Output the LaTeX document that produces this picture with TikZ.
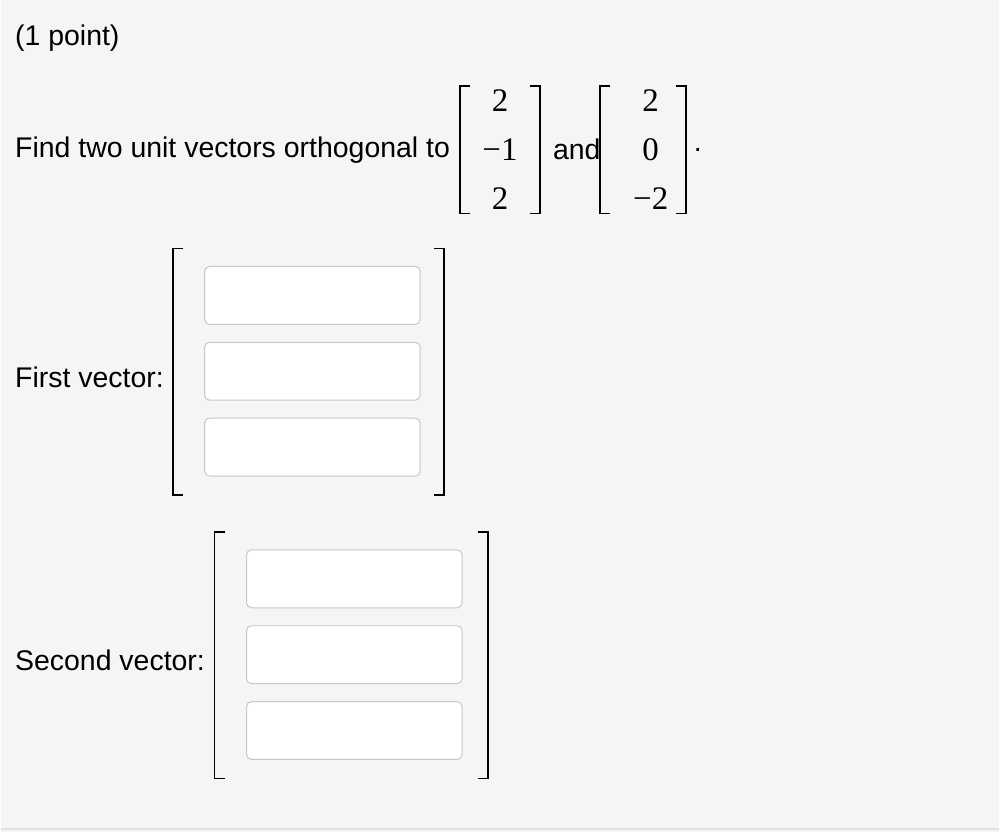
\documentclass[tikz,border=0pt]{standalone}
\usepackage{fontspec}
\setmainfont{Liberation Sans}
\newfontfamily\mathser{Liberation Serif}
\begin{document}
\begin{tikzpicture}[x=1pt,y=-1pt,
  lbl/.style={anchor=west,inner sep=0,font=\fontsize{28.5}{32}\selectfont},
  ent/.style={inner sep=0,font=\mathser\fontsize{33}{36}\selectfont},
  ansbox/.style={draw=black!22,fill=white,rounded corners=5pt,line width=1pt,minimum width=216pt,minimum height=58pt,inner sep=0},
  brk/.style={line width=1.8pt}]
\fill[black!4] (0,0) rectangle (1000,834);
\draw[black!12,line width=2pt] (0,831) -- (1000,831);
\node[lbl] (pt) at (14,38) {(1 point)};
\node[lbl] (q) at (14,150) {Find two unit vectors orthogonal to};
% matrix 1
\draw[brk] (470,86) -- (460,86) -- (460,214) -- (470,214);
\draw[brk] (530,86) -- (540,86) -- (540,214) -- (530,214);
\node[ent] (a1) at (500,101) {2};
\node[ent] (a2) at (500,150) {\char"2212 1};
\node[ent] (a3) at (500,199) {2};
\node[lbl] (and) at (553,150) {and};
% matrix 2
\draw[brk] (610,86) -- (600,86) -- (600,214) -- (610,214);
\draw[brk] (676,86) -- (686,86) -- (686,214) -- (676,214);
\node[ent] (b1) at (651,101) {2};
\node[ent] (b2) at (651,150) {0};
\node[ent] (b3) at (651,199) {\char"2212 2};
\node[lbl] (dot) at (694,150) {.};
% first vector
\node[lbl] (fv) at (14,378) {First vector:};
\draw[brk] (182,249) -- (172,249) -- (172,496) -- (182,496);
\draw[brk] (434,249) -- (444,249) -- (444,496) -- (434,496);
\node[ansbox] (f1) at (312,296) {};
\node[ansbox] (f2) at (312,372) {};
\node[ansbox] (f3) at (312,448) {};
% second vector
\node[lbl] (sv) at (14,662) {Second vector:};
\draw[brk] (224,533) -- (214,533) -- (214,780) -- (224,780);
\draw[brk] (478,533) -- (488,533) -- (488,780) -- (478,780);
\node[ansbox] (s1) at (354,580) {};
\node[ansbox] (s2) at (354,656) {};
\node[ansbox] (s3) at (354,732) {};
\end{tikzpicture}
\end{document}
